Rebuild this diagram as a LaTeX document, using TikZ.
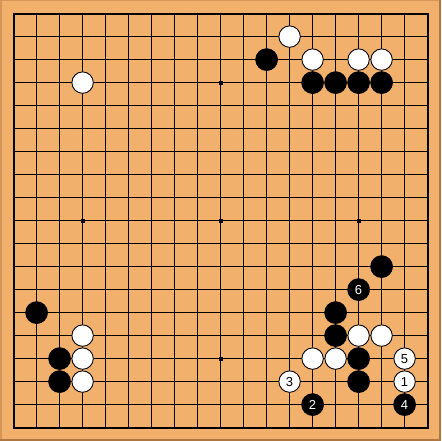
\documentclass[tikz,border=0pt]{standalone}
\usepackage{fontspec}
\setmainfont{Liberation Sans}
\definecolor{board}{RGB}{242,176,109}
\definecolor{frameL}{RGB}{214,150,88}
\definecolor{frameD}{RGB}{176,118,64}
\newcommand\gx[1]{13.6+23*(#1-1)}
\newcommand\stone[4]{\node[#1] (s-#2-#3) at ({\gx{#2}},{\gx{#3}}) {#4};}
\begin{document}
\begin{tikzpicture}[x=1pt,y=-1pt,
  bstone/.style={circle,fill=black,draw=black,line width=0.6pt,minimum size=22pt,inner sep=0pt,text=white,font=\fontsize{13}{13}\selectfont},
  wstone/.style={circle,fill=white,draw=black,line width=0.9pt,minimum size=21.4pt,inner sep=0pt,text=black,font=\fontsize{13}{13}\selectfont},
  hoshi/.style={rectangle,fill=black,minimum size=4pt,inner sep=0pt}]
\useasboundingbox (0,0) rectangle (441,441);
\fill[board] (0,0) rectangle (441,441);
\fill[frameL] (0,0) rectangle (2,441);
\fill[frameL] (0,0) rectangle (441,1);
\fill[frameD] (439,0) rectangle (441,441);
\fill[frameD] (0,439) rectangle (441,441);
\foreach \i in {2,...,18} {
  \draw[line width=1pt] ({\gx{\i}},{\gx{1}}) -- ({\gx{\i}},{\gx{19}});
  \draw[line width=1pt] ({\gx{1}},{\gx{\i}}) -- ({\gx{19}},{\gx{\i}});
}
\draw[line width=2pt] ({\gx{1}},{\gx{1}}) rectangle ({\gx{19}},{\gx{19}});
\foreach \c/\r in {10/4,4/10,10/10,16/10,10/16}
  \node[hoshi] (h-\c-\r) at ({\gx{\c}},{\gx{\r}}) {};
% top
\stone{wstone}{13}{2}{}
\stone{bstone}{12}{3}{}
\stone{wstone}{14}{3}{}
\stone{wstone}{16}{3}{}
\stone{wstone}{17}{3}{}
\stone{bstone}{14}{4}{}
\stone{bstone}{15}{4}{}
\stone{bstone}{16}{4}{}
\stone{bstone}{17}{4}{}
\stone{wstone}{4}{4}{}
% right
\stone{bstone}{17}{12}{}
\stone{bstone}{16}{13}{6}
\stone{bstone}{15}{14}{}
\stone{bstone}{15}{15}{}
\stone{wstone}{16}{15}{}
\stone{wstone}{17}{15}{}
\stone{wstone}{14}{16}{}
\stone{wstone}{15}{16}{}
\stone{bstone}{16}{16}{}
\stone{wstone}{18}{16}{5}
\stone{wstone}{13}{17}{3}
\stone{bstone}{16}{17}{}
\stone{wstone}{18}{17}{1}
\stone{bstone}{14}{18}{2}
\stone{bstone}{18}{18}{4}
% left
\stone{bstone}{2}{14}{}
\stone{wstone}{4}{15}{}
\stone{bstone}{3}{16}{}
\stone{wstone}{4}{16}{}
\stone{bstone}{3}{17}{}
\stone{wstone}{4}{17}{}
\end{tikzpicture}
\end{document}
